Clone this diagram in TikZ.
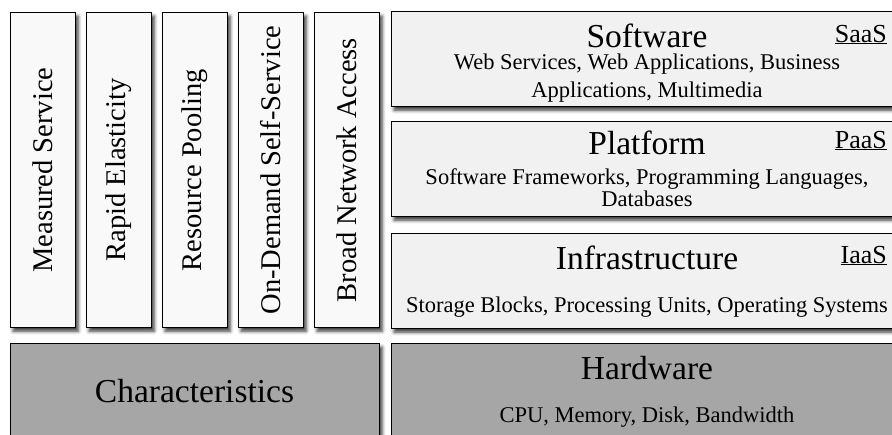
\documentclass[tikz,border=0pt]{standalone}
\usepackage{fontspec}
\setmainfont{Liberation Serif}
\usepackage{graphicx}
\usetikzlibrary{shadows.blur}

\definecolor{colfill}{HTML}{F9F9F9}
\definecolor{layfill}{HTML}{F1F1F1}
\definecolor{basefill}{HTML}{A6A6A6}

\tikzset{
  boxshadow/.style={blur shadow={shadow xshift=2.5pt, shadow yshift=-3.5pt, shadow blur radius=3.5pt, shadow opacity=80}},
  colbox/.style={draw, line width=1.2pt, fill=colfill, boxshadow, anchor=north west,
    minimum width=65pt, minimum height=315pt, inner sep=0pt},
  layerbox/.style={draw, line width=1.2pt, fill=layfill, boxshadow, anchor=north west,
    minimum width=512pt, minimum height=95pt, inner sep=0pt},
  basebox/.style={draw, line width=1.2pt, fill=basefill, boxshadow, anchor=north west,
    minimum height=115pt, inner sep=0pt},
  coltext/.style={font=\fontsize{28.5}{30}\selectfont, inner sep=0pt},
  title/.style={font=\fontsize{33.5}{36}\selectfont, anchor=base, inner sep=0pt},
  detail/.style={font=\fontsize{22.5}{22}\selectfont, align=center, anchor=base, inner sep=0pt},
  tag/.style={font=\fontsize{26}{28}\selectfont, anchor=base east, inner sep=0pt}
}

\begin{document}
\begin{tikzpicture}[x=1pt,y=-1pt]
\useasboundingbox (0,0) rectangle (892,434);
\clip (0,0) rectangle (892,434);

% characteristics columns
\foreach \i/\lab in {0/Measured Service, 1/Rapid Elasticity, 2/Resource Pooling,
                     3/On-Demand Self-Service, 4/Broad Network Access} {
  \node[colbox] (col\i) at (10+76*\i,12) {};
  \node[coltext, rotate=90] (col\i text) at (col\i.center) {\lab};
}

% service layers
\node[layerbox] (saas) at (391,11) {};
\node[layerbox] (paas) at (391,121) {};
\node[layerbox] (iaas) at (391,233) {};

\node[title] (saastitle) at (647,47) {Software};
\node[detail] (saasdetail) at (647,97) {Web Services, Web Applications, Business\\[6pt]Applications, Multimedia};
\node[tag] (saastag) at (887,42) {\underline{SaaS}};

\node[title] (paastitle) at (647,154) {Platform};
\node[detail] (paasdetail) at (647,206) {Software Frameworks, Programming Languages,\\Databases};
\node[tag] (paastag) at (887,148) {\underline{PaaS}};

\node[title] (iaastitle) at (647,269) {Infrastructure};
\node[detail] (iaasdetail) at (647,312) {Storage Blocks, Processing Units, Operating Systems};
\node[tag] (iaastag) at (887,263) {\underline{IaaS}};

% base row
\node[basebox, minimum width=369pt] (chars) at (10,343) {};
\node[basebox, minimum width=512pt] (hw) at (391,343) {};
\node[title] (charstitle) at (194.5,402) {Characteristics};
\node[title] (hwtitle) at (647,379) {Hardware};
\node[detail] (hwdetail) at (647,422) {CPU, Memory, Disk, Bandwidth};
\end{tikzpicture}
\end{document}
